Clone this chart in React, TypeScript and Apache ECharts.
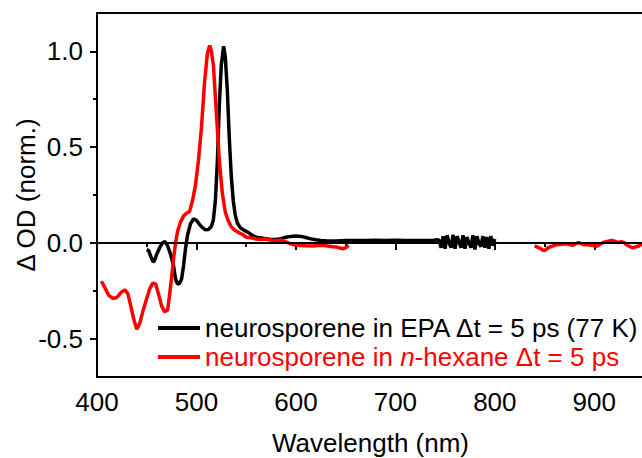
import React, { useEffect, useRef } from "react";
import * as echarts from "echarts";

const FONT = "'Liberation Sans', Arial, sans-serif";

const blackName = "neurosporene in EPA Δt = 5 ps (77 K)";
const redName = "neurosporene in n-hexane Δt = 5 ps";

const xTicks = [400, 500, 600, 700, 800, 900];
const yTicks = [-0.5, 0, 0.5, 1.0];
const yMinorTicks = [-0.25, 0.25, 0.75];

const blackWavelengths = [
  450, 452, 454, 456.5, 458, 460, 463, 466, 468.5, 471, 474, 477, 479, 481, 483, 485, 487, 489, 491,
  494, 497, 500, 503, 506, 509, 512, 515, 517, 519, 521, 523, 525, 527.3, 529, 531, 533, 535, 537,
  539, 541, 544, 548, 552, 556, 560, 565, 570, 575, 580, 585, 590, 595, 600, 605, 610, 615, 620, 625,
  630, 640, 650, 660, 670, 680, 690, 700, 710, 720, 730, 738, 742, 744, 746, 748, 750, 752, 754, 756,
  758, 760, 762, 764, 766, 768, 770, 772, 774, 776, 778, 780, 782, 784, 786, 788, 790, 792, 794, 796,
  798, 800,
];
const blackValues = [
  -0.035, -0.04, -0.07, -0.1, -0.09, -0.06, -0.025, 0.0, 0.007, -0.015, -0.06, -0.12, -0.19, -0.215,
  -0.21, -0.19, -0.12, -0.03, 0.04, 0.1, 0.125, 0.118, 0.097, 0.08, 0.068, 0.07, 0.085, 0.12, 0.22,
  0.42, 0.72, 0.93, 1.026, 0.97, 0.8, 0.55, 0.35, 0.22, 0.145, 0.105, 0.08, 0.065, 0.055, 0.04, 0.03,
  0.026, 0.022, 0.018, 0.018, 0.022, 0.03, 0.034, 0.036, 0.034, 0.028, 0.021, 0.016, 0.013, 0.011,
  0.01, 0.012, 0.012, 0.013, 0.014, 0.013, 0.014, 0.012, 0.013, 0.012, 0.013, 0.016, 0.014, -0.025,
  0.035, -0.03, 0.04, 0.0, -0.025, 0.042, -0.03, 0.035, 0.005, -0.025, 0.04, -0.03, 0.03, 0.0,
  -0.025, 0.04, -0.035, 0.035, 0.0, -0.02, 0.035, -0.025, 0.03, -0.03, 0.035, -0.015, 0.02,
];

const redWavelengthsVis = [
  404.4, 408, 412, 416, 420, 424, 428, 431, 434, 437, 440, 443, 446, 450, 453, 456, 459, 462, 465,
  468, 471, 473, 475, 477, 479, 481, 484, 487, 490, 493, 496, 499, 502, 505, 508, 511, 513.3, 515,
  517, 520, 523, 526, 529, 532, 535, 538, 542, 546, 550, 555, 560, 565, 570, 574, 578, 582, 586, 590,
  594, 598, 604, 610, 617, 622, 627, 632, 637, 641, 645, 648, 651, 653,
];
const redValuesVis = [
  -0.2, -0.235, -0.275, -0.29, -0.285, -0.26, -0.245, -0.265, -0.33, -0.4, -0.45, -0.42, -0.36,
  -0.29, -0.24, -0.21, -0.215, -0.27, -0.33, -0.36, -0.35, -0.27, -0.18, -0.08, 0.0, 0.06, 0.11,
  0.14, 0.155, 0.163, 0.22, 0.3, 0.43, 0.6, 0.83, 0.99, 1.03, 1.0, 0.93, 0.68, 0.43, 0.26, 0.16,
  0.115, 0.085, 0.068, 0.055, 0.045, 0.03, 0.027, 0.02, 0.018, 0.02, 0.015, 0.01, 0.012, 0.015,
  0.005, -0.004, -0.01, -0.013, -0.015, -0.016, -0.014, -0.013, -0.016, -0.02, -0.022, -0.028,
  -0.03, -0.022, -0.012,
];

const redWavelengthsNir = [
  840, 843, 846, 849, 851, 854, 857, 861, 865, 869, 872, 875, 878, 881, 884, 887, 890, 893, 897, 900,
  903, 906, 909, 912, 915, 918, 921, 924, 927, 930, 933, 936, 939, 942, 945, 948,
];
const redValuesNir = [
  -0.016, -0.022, -0.03, -0.04, -0.036, -0.024, -0.018, -0.01, -0.008, -0.006, -0.005, -0.008,
  -0.013, -0.006, 0.002, -0.004, -0.01, -0.008, -0.013, -0.015, -0.016, -0.006, 0.002, 0.006, 0.01,
  0.013, 0.008, 0.002, 0.006, 0.002, -0.012, -0.02, -0.026, -0.02, -0.016, -0.004,
];

const pairs = (xs: number[], ys: number[]) => xs.map((x, i) => [x, ys[i]]);

export default function App() {
  const ref = useRef<HTMLDivElement>(null);
  useEffect(() => {
    if (!ref.current) return;
    const chart = echarts.init(ref.current, undefined, { renderer: "svg" });
    const txt = { fontFamily: FONT, fontSize: 26, color: "#000" };
    chart.setOption({
      animation: false,
      backgroundColor: "#fff",
      grid: {
        left: 97,
        top: 13,
        width: 547,
        height: 364,
        show: true,
        borderColor: "#000",
        borderWidth: 2,
        containLabel: false,
        outerBoundsMode: "none",
      },
      legend: {
        orient: "vertical",
        left: 158,
        top: 315,
        padding: 0,
        icon: "rect",
        itemWidth: 42,
        itemHeight: 4,
        itemGap: 3,
        textStyle: {
          ...txt,
          rich: {
            i: { fontFamily: FONT, fontSize: 26, fontStyle: "italic", color: "#f00" },
          },
        },
        data: [
          { name: blackName, textStyle: { color: "#000" } },
          { name: redName, textStyle: { color: "#f00" } },
        ],
        formatter: (name: string) =>
          name === redName ? "neurosporene in {i|n}-hexane Δt = 5 ps" : name,
      },
      xAxis: {
        type: "value",
        min: 400,
        max: 950,
        interval: 100,
        name: "Wavelength (nm)",
        nameLocation: "middle",
        nameGap: 53,
        nameMoveOverlap: false,
        nameTextStyle: txt,
        axisLine: { show: true, lineStyle: { color: "#000", width: 2 } },
        axisTick: { show: true, length: 7, lineStyle: { color: "#000", width: 2 } },
        minorTick: { show: true, splitNumber: 2, length: 4, lineStyle: { color: "#000", width: 2 } },
        axisLabel: {
          ...txt,
          margin: 12,
          formatter: (v: number) => (xTicks.includes(v) ? String(v) : ""),
        },
        splitLine: { show: false },
        minorSplitLine: { show: false },
      },
      yAxis: [
        {
          type: "value",
          min: -0.7,
          max: 1.2,
          position: "left",
          name: "Δ OD (norm.)",
          nameLocation: "middle",
          nameGap: 58,
          nameMoveOverlap: false,
          nameTextStyle: txt,
          axisLine: { show: true, onZero: false, lineStyle: { color: "#000", width: 2 } },
          axisTick: {
            show: true,
            customValues: yTicks,
            length: 7,
            lineStyle: { color: "#000", width: 2 },
          },
          axisLabel: {
            ...txt,
            margin: 14,
            customValues: yTicks,
            formatter: (v: number) => v.toFixed(1),
          },
          splitLine: { show: false },
        },
        {
          type: "value",
          min: -0.7,
          max: 1.2,
          position: "left",
          offset: 0,
          axisLine: { show: false },
          axisTick: {
            show: true,
            customValues: yMinorTicks,
            length: 4,
            lineStyle: { color: "#000", width: 2 },
          },
          axisLabel: { show: false },
          splitLine: { show: false },
        },
      ],
      series: [
        {
          type: "line",
          name: blackName,
          data: pairs(blackWavelengths, blackValues),
          symbol: "none",
          showSymbol: false,
          lineStyle: { color: "#000", width: 3.5 },
          itemStyle: { color: "#000" },
          markLine: {
            silent: true,
            symbol: "none",
            label: { show: false },
            lineStyle: { color: "#000", width: 2, type: "solid" },
            data: [{ yAxis: 0 }],
          },
        },
        {
          type: "line",
          name: redName,
          data: pairs(redWavelengthsVis, redValuesVis),
          symbol: "none",
          showSymbol: false,
          lineStyle: { color: "#f00", width: 3.5 },
          itemStyle: { color: "#f00" },
        },
        {
          type: "line",
          name: redName,
          data: pairs(redWavelengthsNir, redValuesNir),
          symbol: "none",
          showSymbol: false,
          lineStyle: { color: "#f00", width: 3.5 },
          itemStyle: { color: "#f00" },
        },
      ],
    });
    return () => chart.dispose();
  }, []);
  return (
    <div
      ref={ref}
      style={{ position: "fixed", left: 0, top: 0, width: 642, height: 458, background: "#fff" }}
    />
  );
}
